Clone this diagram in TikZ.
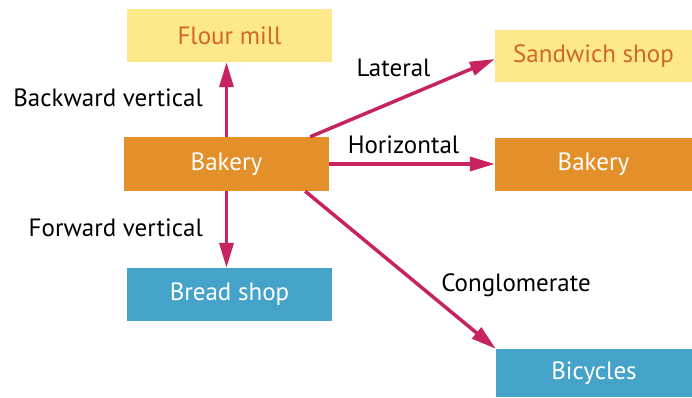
\documentclass[tikz,border=0pt]{standalone}
\usepackage{fontspec}
\setmainfont{PT Sans}
\usetikzlibrary{arrows.meta,calc}
\definecolor{boxyellow}{HTML}{FDE98B}
\definecolor{boxorange}{HTML}{E3902B}
\definecolor{boxblue}{HTML}{45A3C9}
\definecolor{txtorange}{HTML}{D0691F}
\definecolor{arrowred}{HTML}{C72360}
\tikzset{
  every node/.style={font=\fontsize{25bp}{29bp}\selectfont, inner sep=0pt},
  box/.style={rectangle, minimum width=205bp, minimum height=53bp},
  rbox/.style={rectangle, minimum width=197bp, minimum height=53bp},
  yel/.style={fill=boxyellow, text=txtorange},
  ora/.style={fill=boxorange, text=white},
  blu/.style={fill=boxblue, text=white},
  lab/.style={text=black},
  link/.style={draw=arrowred, line width=3.5bp, -{Triangle[length=25bp,width=14bp]}}
}
\begin{document}
\begin{tikzpicture}[x=1bp,y=-1bp]
\useasboundingbox (0,0) rectangle (692,397);
\node[box,yel] (mill) at (229.5,35.5) {Flour mill};
\node[box,ora,minimum height=54bp] (bak) at (226.5,164) {Bakery};
\node[box,blu] (bread) at (229.5,294.5) {Bread shop};
\node[rbox,yel,minimum height=52bp] (sand) at (593.5,56) {Sandwich shop};
\node[rbox,ora] (bak2) at (593.5,164.5) {Bakery};
\node[rbox,blu,minimum width=196bp,minimum height=48bp] (bic) at (594,373) {Bicycles};

\node[lab,anchor=east] (lbv) at (203,98) {Backward vertical};
\node[lab,anchor=east] (lfv) at (203,228) {Forward vertical};
\node[lab] (llat) at (393.5,68) {Lateral};
\node[lab] (lhor) at (403.5,145) {Horizontal};
\node[lab] (lcon) at (516,285) {Conglomerate};

\draw[link] (bak.north) -- (bak.north |- mill.south);
\draw[link] (bak.south) -- (bak.south |- bread.north);
\draw[link] (bak.east) -- (bak.east -| bak2.west);
\coordinate (latstart) at ($(bak.north east)+(-19,0)$);
\coordinate (latend) at ($(sand.west)+(0,3)$);
\draw[link] (latstart) -- (latend);
\coordinate (constart) at ($(bak.south east)+(-24,0)$);
\draw[link] (constart) -- (bic.north west);
\end{tikzpicture}
\end{document}
